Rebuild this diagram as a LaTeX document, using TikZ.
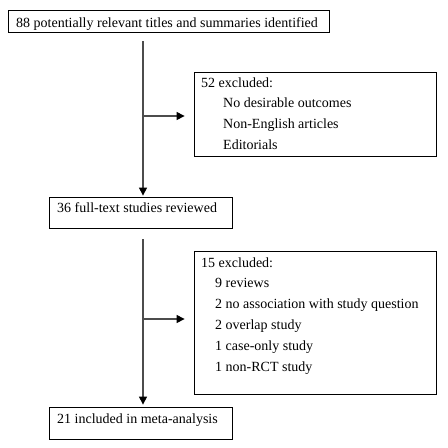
\documentclass[tikz,border=0pt]{standalone}
\usepackage{fontspec}
\setmainfont{Liberation Serif}
\usetikzlibrary{positioning,arrows.meta}
\tikzset{
  box/.style={draw=black,line width=0.8pt,rectangle,inner sep=0pt},
  txt/.style={anchor=base west,inner sep=0pt},
  flow/.style={draw=black!70,line width=1.1pt,-{Triangle[length=8pt,width=8pt,black]}},
}
\begin{document}
\begin{tikzpicture}[x=1pt,y=-1pt,font=\fontsize{14}{20.8}\selectfont]
\useasboundingbox (0,0) rectangle (448,448);
% boxes
\node[box,minimum width=321pt,minimum height=22pt] (ident) at (168.5,21) {};
\node[box,minimum width=242pt,minimum height=84pt] (excl1) at (315,114) {};
\node[box,minimum width=183pt,minimum height=31pt] (full) at (140.5,212.5) {};
\node[box,minimum width=242pt,minimum height=143pt] (excl2) at (315,322.5) {};
\node[box,minimum width=183pt,minimum height=32pt] (meta) at (140.5,423) {};
% texts
\node[txt] (identtxt) at (16,27) {88 potentially relevant titles and summaries identified};
\node[txt] (excl1txt) at (201,87) {\begin{tabular}[t]{@{}l@{}}52 excluded:\\
  \hspace{22pt}No desirable outcomes\\
  \hspace{22pt}Non-English articles\\
  \hspace{22pt}Editorials\end{tabular}};
\node[txt] (fulltxt) at (57,212.5) {36 full-text studies reviewed};
\node[txt] (excl2txt) at (201,267) {\begin{tabular}[t]{@{}l@{}}15 excluded:\\
  \hspace{14pt}9 reviews\\
  \hspace{14pt}2 no association with study question\\
  \hspace{14pt}2 overlap study\\
  \hspace{14pt}1 case-only study\\
  \hspace{14pt}1 non-RCT study\end{tabular}};
\node[txt] (metatxt) at (57,423) {21 included in meta-analysis};
% connectors
\coordinate (start1) at (143,41);
\coordinate (join1) at (143,116);
\coordinate (start2) at (143,239);
\coordinate (join2) at (143,319);
\draw[flow,shorten >=1pt] (start1) -- (start1 |- full.north);
\draw[flow,shorten >=9pt] (join1) -- (join1 -| excl1.west);
\draw[flow,shorten >=2pt] (start2) -- (start2 |- meta.north);
\draw[flow,shorten >=9pt] (join2) -- (join2 -| excl2.west);
\end{tikzpicture}
\end{document}
